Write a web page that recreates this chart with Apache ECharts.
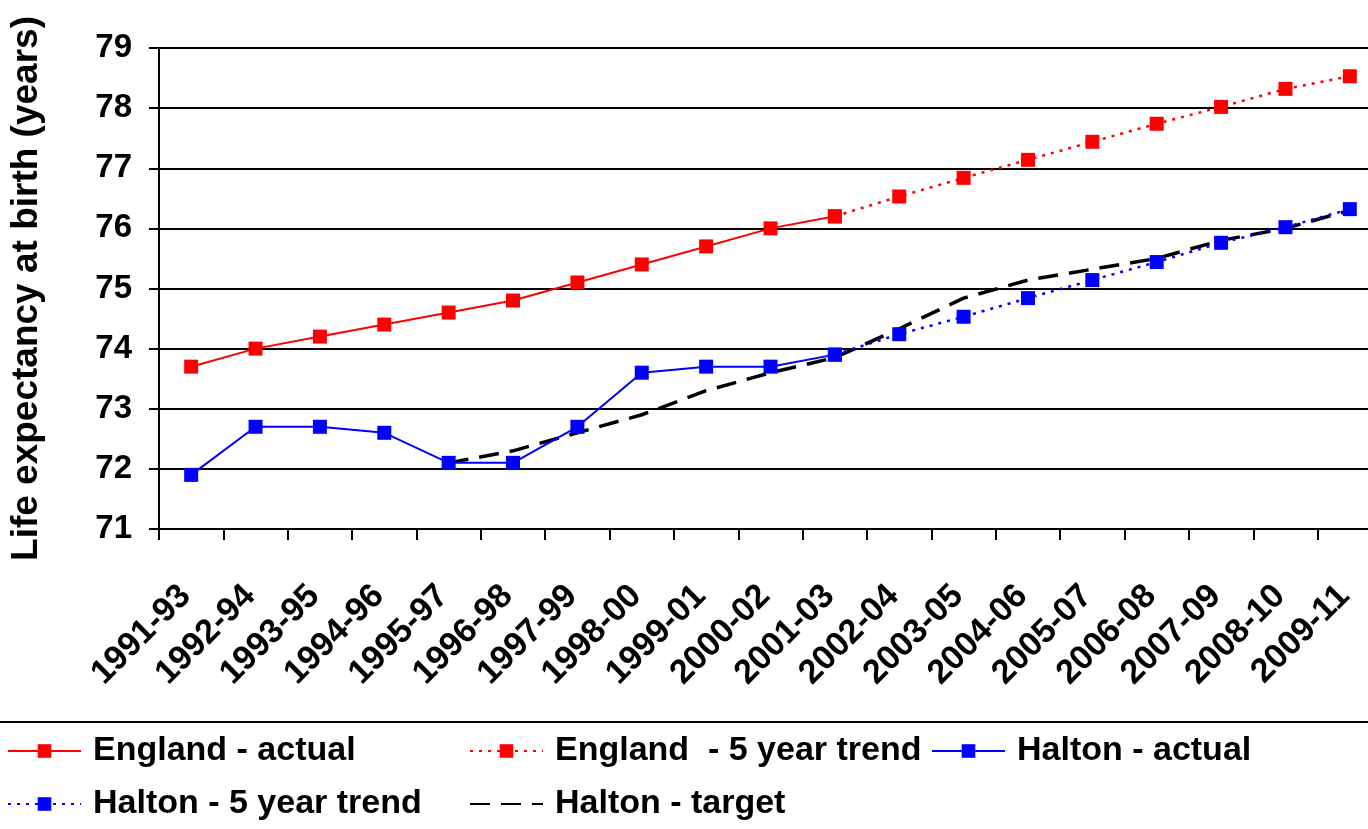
<!DOCTYPE html>
<html>
<head>
<meta charset="utf-8">
<script src="https://cdn.jsdelivr.net/npm/echarts@6/dist/echarts.min.js"></script>
<style>
html,body{margin:0;padding:0;overflow:hidden;background:#fff;width:1368px;height:829px;}
#chart{width:1382px;height:829px;}
</style>
</head>
<body>
<div id="chart"></div>
<script>
var categories = ['1991-93','1992-94','1993-95','1994-96','1995-97','1996-98','1997-99','1998-00','1999-01','2000-02','2001-03','2002-04','2003-05','2004-06','2005-07','2006-08','2007-09','2008-10','2009-11'];
var englandActual = [73.7,74.0,74.2,74.4,74.6,74.8,75.1,75.4,75.7,76.0,76.2,null,null,null,null,null,null,null,null];
var englandTrend  = [null,null,null,null,null,null,null,null,null,null,76.2,76.53,76.84,77.14,77.44,77.74,78.02,78.32,78.53];
var haltonActual  = [71.9,72.7,72.7,72.6,72.1,72.1,72.7,73.6,73.7,73.7,73.9,null,null,null,null,null,null,null,null];
var haltonTrend   = [null,null,null,null,null,null,null,null,null,null,73.9,74.24,74.53,74.84,75.14,75.44,75.76,76.02,76.32];
var haltonTarget  = [null,null,null,null,72.1,72.3,72.6,72.9,73.3,73.6,73.85,74.33,74.84,75.14,75.32,75.5,75.8,76.0,76.3];
var yTicks = {min:71, max:79, interval:1};
var seriesNames = ['England - actual','England  - 5 year trend','Halton - actual','Halton - 5 year trend','Halton - target'];

var FONT = "'Liberation Sans', Arial, sans-serif";
var chart = echarts.init(document.getElementById('chart'), null, {renderer:'canvas'});

function legendAt(name, left, top, hideSymbol){
  var l = {
    show:true, data:[name], left:left, top:top, orient:'horizontal',
    itemWidth:73, itemHeight:17, selectedMode:false,
    textStyle:{fontFamily:FONT, fontWeight:'bold', fontSize:34, color:'#000', padding:[0,0,0,7]},
    padding:0
  };
  if (hideSymbol) { l.itemStyle = {opacity:0}; }
  return l;
}

var option = {
  animation:false,
  backgroundColor:'#fff',
  grid:{left:157, right:0, top:48, bottom:300, containLabel:false},
  xAxis:{
    type:'category', data:categories, boundaryGap:true,
    axisLine:{show:true, lineStyle:{color:'#000', width:2}},
    axisTick:{show:true, interval:0, length:11, lineStyle:{color:'#000', width:2}},
    axisLabel:{interval:0, rotate:45, margin:56, padding:[0,8,0,0], fontFamily:FONT, fontWeight:'bold', fontSize:34, color:'#000'},
    splitLine:{show:false}
  },
  yAxis:{
    type:'value', min:yTicks.min, max:yTicks.max, interval:yTicks.interval,
    name:'Life expectancy at birth (years)', nameLocation:'middle', nameRotate:90, nameGap:114,
    nameTextStyle:{fontFamily:FONT, fontWeight:'bold', fontSize:37, color:'#000'},
    axisLine:{show:true, lineStyle:{color:'#000', width:2}},
    axisTick:{show:true, length:10, lineStyle:{color:'#000', width:2}},
    axisLabel:{margin:27, fontFamily:FONT, fontWeight:'bold', fontSize:33, color:'#000'},
    splitLine:{show:true, lineStyle:{color:'#000', width:2}}
  },
  legend:[
    legendAt(seriesNames[0], 7, 734),
    legendAt(seriesNames[1], 469, 734),
    legendAt(seriesNames[2], 931, 734),
    legendAt(seriesNames[3], 7, 787),
    legendAt(seriesNames[4], 469, 787, true)
  ],
  graphic:[{
    type:'line', shape:{x1:0, y1:722, x2:1368, y2:722},
    style:{stroke:'#000', lineWidth:2}, silent:true
  }],
  series:[
    {name:seriesNames[4], type:'line', data:haltonTarget, symbol:'none', connectNulls:false,
     lineStyle:{color:'#000', width:3.5, type:[20,11]}, itemStyle:{color:'#000'}},
    {name:seriesNames[0], type:'line', data:englandActual, symbol:'rect', symbolSize:14,
     lineStyle:{color:'#FF0000', width:2}, itemStyle:{color:'#FF0000'}},
    {name:seriesNames[1], type:'line', data:englandTrend, symbol:'rect', symbolSize:14,
     lineStyle:{color:'#FF0000', width:2.5, type:[3,6]}, itemStyle:{color:'#FF0000'}},
    {name:seriesNames[2], type:'line', data:haltonActual, symbol:'rect', symbolSize:14,
     lineStyle:{color:'#0000FF', width:2}, itemStyle:{color:'#0000FF'}},
    {name:seriesNames[3], type:'line', data:haltonTrend, symbol:'rect', symbolSize:14,
     lineStyle:{color:'#0000FF', width:2.5, type:[3,6]}, itemStyle:{color:'#0000FF'}}
  ]
};
chart.setOption(option);
</script>
</body>
</html>
